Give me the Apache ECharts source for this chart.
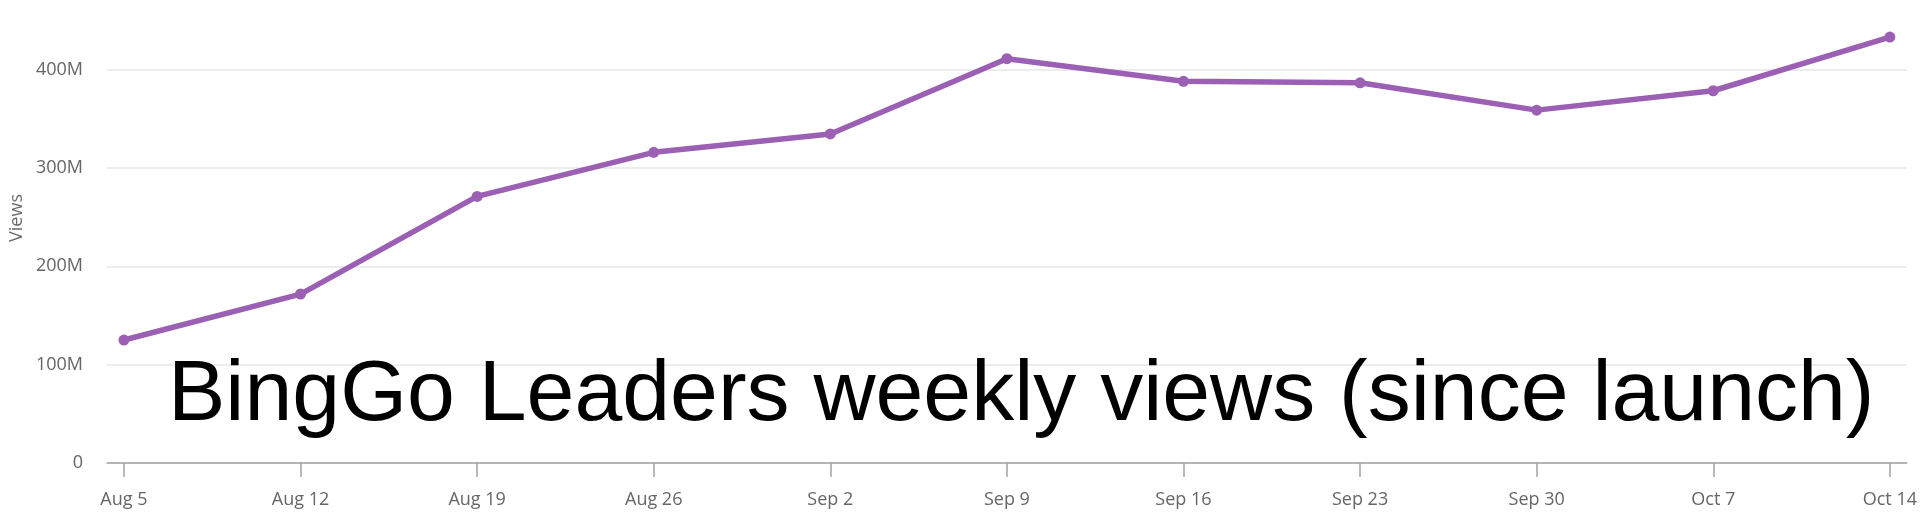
<!DOCTYPE html>
<html>
<head>
<meta charset="utf-8">
<script src="https://cdn.jsdelivr.net/npm/echarts@6/dist/echarts.min.js"></script>
<style>html,body{margin:0;padding:0;background:#fff;}#c{width:1920px;height:521px;}</style>
</head>
<body>
<div id="c"></div>
<script>
const categories = ['Aug 5','Aug 12','Aug 19','Aug 26','Sep 2','Sep 9','Sep 16','Sep 23','Sep 30','Oct 7','Oct 14'];
const views = [125e6, 171.7e6, 271e6, 315.8e6, 334.5e6, 411e6, 388e6, 386.5e6, 358.7e6, 378.4e6, 433e6];
const yTicks = [0, 100e6, 200e6, 300e6, 400e6];
const titleText = 'BingGo Leaders weekly views (since launch)';
const yName = 'Views';

const idx = categories.map((_, i) => i);
const chart = echarts.init(document.getElementById('c'), null, {renderer: 'canvas'});
chart.setOption({
  animation: false,
  backgroundColor: '#fff',
  title: {
    text: titleText, left: 168, top: 353, padding: 0,
    textStyle: {fontFamily: 'Liberation Sans', fontSize: 86, fontWeight: 'normal', color: '#000'}
  },
  graphic: [{
    type: 'text', x: 17, y: 218, rotation: Math.PI / 2,
    style: {text: yName, fontFamily: 'Open Sans', fontSize: 18, fill: '#6b6b6b', align: 'center', verticalAlign: 'middle'}
  }],
  grid: {left: 107, right: 11, top: 69.5, bottom: 58, containLabel: false},
  xAxis: {
    type: 'value', min: -0.096, max: 10.096,
    axisLine: {show: true, lineStyle: {color: '#a3a3a3', width: 1.5}},
    axisTick: {show: true, customValues: idx, length: 14, lineStyle: {color: '#a3a3a3', width: 1.5}},
    axisLabel: {customValues: idx, formatter: v => categories[Math.round(v)], margin: 28,
      fontFamily: 'Open Sans', fontSize: 18, color: '#666666'},
    splitLine: {show: false}
  },
  yAxis: {
    type: 'value', min: yTicks[0], max: yTicks[yTicks.length - 1], interval: 100e6,
    axisLine: {show: false}, axisTick: {show: false},
    axisLabel: {formatter: v => v === 0 ? '0' : (v / 1e6) + 'M', margin: 24,
      fontFamily: 'Open Sans', fontSize: 18, color: '#666666'},
    splitLine: {lineStyle: {color: '#e6e6e6', width: 1.5}}
  },
  series: [{
    type: 'line', clip: false,
    data: views.map((v, i) => [i, v]),
    symbol: 'circle', symbolSize: 11,
    lineStyle: {color: '#9b60b4', width: 5.5},
    itemStyle: {color: '#9b60b4'}
  }]
});
</script>
</body>
</html>
